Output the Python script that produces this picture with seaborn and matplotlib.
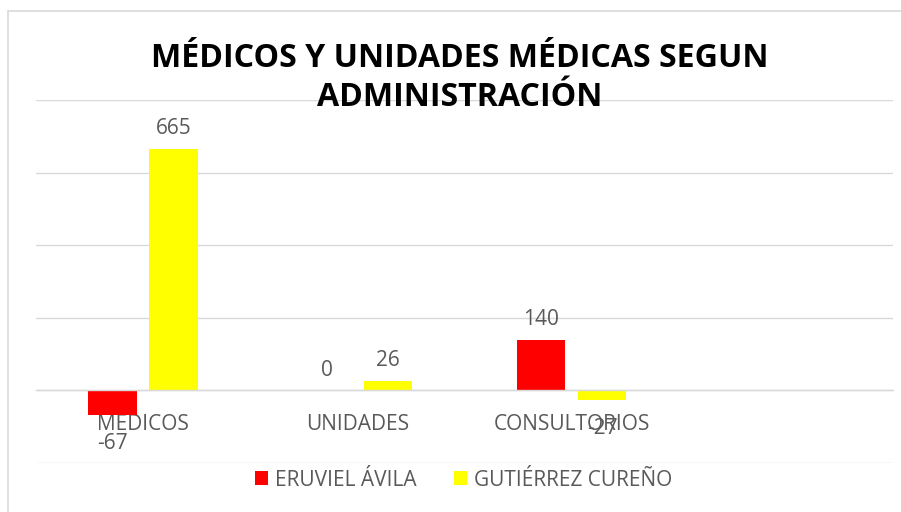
import matplotlib
matplotlib.use("Agg")
import matplotlib.pyplot as plt
from matplotlib.lines import Line2D
import seaborn as sns
import pandas as pd

# ---- data ----
categories = ["MÉDICOS", "UNIDADES", "CONSULTORIOS"]
series_names = ["ERUVIEL ÁVILA", "GUTIÉRREZ CUREÑO"]
eruviel_values = [-67, 0, 140]
gutierrez_values = [665, 26, -27]
title_lines = ["MÉDICOS Y UNIDADES MÉDICAS SEGUN", "ADMINISTRACIÓN"]
series_colors = ["#FF0000", "#FFFF00"]

df = pd.DataFrame({
    "categoria": categories * 2,
    "serie": [series_names[0]] * len(categories) + [series_names[1]] * len(categories),
    "valor": eruviel_values + gutierrez_values,
})

sns.set_style("white")
plt.rcParams["font.family"] = ["Open Sans", "DejaVu Sans"]
TXT = "#595959"
GRID = "#D9D9D9"
FS = 15

W, H = 901, 512
fig = plt.figure(figsize=(W / 100, H / 100), dpi=100)
ax = fig.add_axes([36 / W, 1 - 463 / H, (893 - 36) / W, (463 - 100) / H])

sns.barplot(data=df, x="categoria", y="valor", hue="serie", order=categories,
            hue_order=series_names, palette=series_colors, width=0.569, gap=0.205,
            errorbar=None, ax=ax, saturation=1, linewidth=0)

ax.set_xlim(-0.5, 3.5)
ax.set_ylim(-200, 800)
ax.set_yticks(range(-200, 801, 200))
ax.set_yticklabels([])
ax.tick_params(axis="y", length=0)
ax.yaxis.grid(True, color=GRID, linewidth=1.0)
ax.set_axisbelow(True)
ax.set_xlabel("")
ax.set_ylabel("")
for s in ["left", "right", "top"]:
    ax.spines[s].set_visible(False)
ax.spines["bottom"].set_position(("data", 0))
ax.spines["bottom"].set_color(GRID)
ax.spines["bottom"].set_linewidth(1.0)
ax.tick_params(axis="x", length=0, pad=17, labelsize=FS, labelcolor=TXT)

for cont, vals in zip(ax.containers, [eruviel_values, gutierrez_values]):
    pos_labels = [f"{v:d}" if v >= 0 else "" for v in vals]
    neg_labels = [f"{v:d}" if v < 0 else "" for v in vals]
    ax.bar_label(cont, labels=pos_labels, padding=7, fontsize=FS, color=TXT)
    ax.bar_label(cont, labels=neg_labels, padding=13, fontsize=FS, color=TXT)

handles, labels = ax.get_legend_handles_labels()
ax.get_legend().remove()
fig.legend(handles, labels, loc="center", bbox_to_anchor=(463.5 / W, 1 - 480 / H),
           ncol=2, frameon=False, fontsize=FS, labelcolor=TXT,
           handlelength=0.63, handleheight=0.63, handletextpad=0.34, columnspacing=1.78)

fig.text(460 / W, 1 - 67 / H, title_lines[0], ha="center", va="baseline",
         fontsize=23.1, fontweight="bold", color="black")
fig.text(460 / W, 1 - 106 / H, title_lines[1], ha="center", va="baseline",
         fontsize=23.1, fontweight="bold", color="black")

# chart border (left and top edges)
fig.add_artist(Line2D([8 / W, 8 / W], [0, 1 - 11 / H], color=GRID, linewidth=1.2))
fig.add_artist(Line2D([8 / W, 1], [1 - 11 / H, 1 - 11 / H], color=GRID, linewidth=1.2))

fig.savefig("out.png", dpi=100)
